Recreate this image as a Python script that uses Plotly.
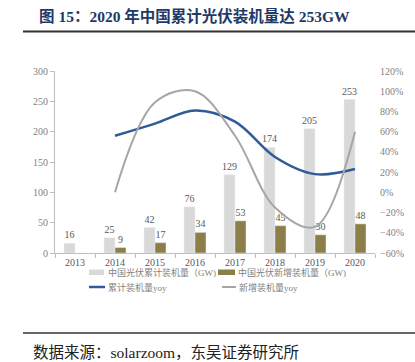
import plotly.graph_objects as go

years = ["2013", "2014", "2015", "2016", "2017", "2018", "2019", "2020"]
cum_gw = [16, 25, 42, 76, 129, 174, 205, 253]
new_gw = [None, 9, 17, 34, 53, 45, 30, 48]
cum_yoy = [None, 0.56, 0.68, 0.81, 0.70, 0.35, 0.18, 0.23]
new_yoy = [None, 0.00, 0.89, 1.00, 0.56, -0.15, -0.34, 0.60]
right_ticks = [-0.6, -0.4, -0.2, 0, 0.2, 0.4, 0.6, 0.8, 1.0, 1.2]

names = ["中国光伏累计装机量（GW)", "中国光伏新增装机量（GW)", "累计装机量yoy", "新增装机量yoy"]
colors = ["#d9d9d9", "#8c7e48", "#2f5b99", "#a6a6a6"]

serif = "Liberation Serif, Noto Sans CJK SC, serif"
gray_txt = "#7f7f7f"

fig = go.Figure()
fig.add_trace(go.Bar(x=years, y=cum_gw, name=names[0],
                     marker_color=colors[0], text=cum_gw, textposition="outside",
                     constraintext="none",
                     textfont=dict(family=serif, size=10, color="#595959"),
                     cliponaxis=False))
fig.add_trace(go.Bar(x=years, y=new_gw, name=names[1],
                     marker_color=colors[1], text=new_gw, textposition="outside",
                     constraintext="none",
                     textfont=dict(family=serif, size=10, color="#595959"),
                     cliponaxis=False))
fig.add_trace(go.Scatter(x=years, y=cum_yoy, name=names[2], yaxis="y2",
                         mode="lines", line=dict(color=colors[2], width=2.5, shape="spline", smoothing=1.0)))
fig.add_trace(go.Scatter(x=years, y=new_yoy, name=names[3], yaxis="y2",
                         mode="lines", line=dict(color=colors[3], width=2, shape="spline", smoothing=1.0)))

def px(x):
    return (x - 55) / 320

def py(y):
    return (253 - y) / 182

# manual legend (positions in pixels, converted to paper coords)
leg_shapes = [
    dict(type="rect", xref="paper", yref="paper", x0=px(89), x1=px(104), y0=py(275), y1=py(269.5),
         fillcolor=colors[0], line=dict(width=0)),
    dict(type="rect", xref="paper", yref="paper", x0=px(218), x1=px(235), y0=py(275), y1=py(269.5),
         fillcolor=colors[1], line=dict(width=0)),
    dict(type="line", xref="paper", yref="paper", x0=px(89), x1=px(105), y0=py(287), y1=py(287),
         line=dict(color=colors[2], width=2.5)),
    dict(type="line", xref="paper", yref="paper", x0=px(222), x1=px(236), y0=py(287), y1=py(287),
         line=dict(color=colors[3], width=2)),
]
leg_pos = [(106, 272.5), (236, 272.5), (106, 287), (237, 287)]
leg_ann = [dict(text=n, xref="paper", yref="paper", x=px(lx), y=py(ly), xanchor="left", yanchor="middle",
                showarrow=False, font=dict(family=serif, size=9, color=gray_txt))
           for n, (lx, ly) in zip(names, leg_pos)]

fig.update_layout(
    width=415, height=362,
    margin=dict(l=55, r=40, t=71, b=109, autoexpand=False),
    paper_bgcolor="white", plot_bgcolor="white",
    barmode="group", bargap=0.45, bargroupgap=0,
    showlegend=False,
    xaxis=dict(type="category", showline=True, linecolor="#bfbfbf", linewidth=1,
               ticks="outside", tickson="boundaries", ticklen=4, tickcolor="#bfbfbf",
               automargin=False,
               tickfont=dict(family=serif, size=10, color="#595959"), showgrid=False),
    yaxis=dict(range=[0, 300], dtick=50, showline=True, linecolor="#bfbfbf",
               ticks="outside", ticklen=4, tickcolor="#bfbfbf", showgrid=False, zeroline=False,
               automargin=False,
               tickfont=dict(family=serif, size=10, color=gray_txt)),
    yaxis2=dict(range=[-0.6, 1.2], tickvals=right_ticks, tickformat=".0%", overlaying="y",
                side="right", showline=False, showgrid=False, zeroline=False,
                automargin=False, ticklabelstandoff=4,
                tickfont=dict(family=serif, size=10, color=gray_txt)),
    annotations=[
        dict(text="<b>图 15：2020 年中国累计光伏装机量达 253GW</b>", xref="paper", yref="paper",
             x=px(37), y=py(16), xanchor="left", yanchor="middle", showarrow=False,
             font=dict(family=serif, size=15.5, color="#1f3a68")),
        dict(text="数据来源：solarzoom，东吴证券研究所", xref="paper", yref="paper",
             x=px(31), y=py(352), xanchor="left", yanchor="middle", showarrow=False,
             font=dict(family=serif, size=15.5, color="#222222")),
    ] + leg_ann,
    shapes=[
        dict(type="line", xref="paper", yref="paper", x0=px(23), x1=px(415), y0=py(31.5), y1=py(31.5),
             line=dict(color="#333333", width=2)),
        dict(type="line", xref="paper", yref="paper", x0=px(23), x1=px(415), y0=py(333), y1=py(333),
             line=dict(color="#333333", width=1.5)),
    ] + leg_shapes,
)

fig.write_html("out.html", config={"displayModeBar": False},
               post_script="document.body.style.margin='0';")
